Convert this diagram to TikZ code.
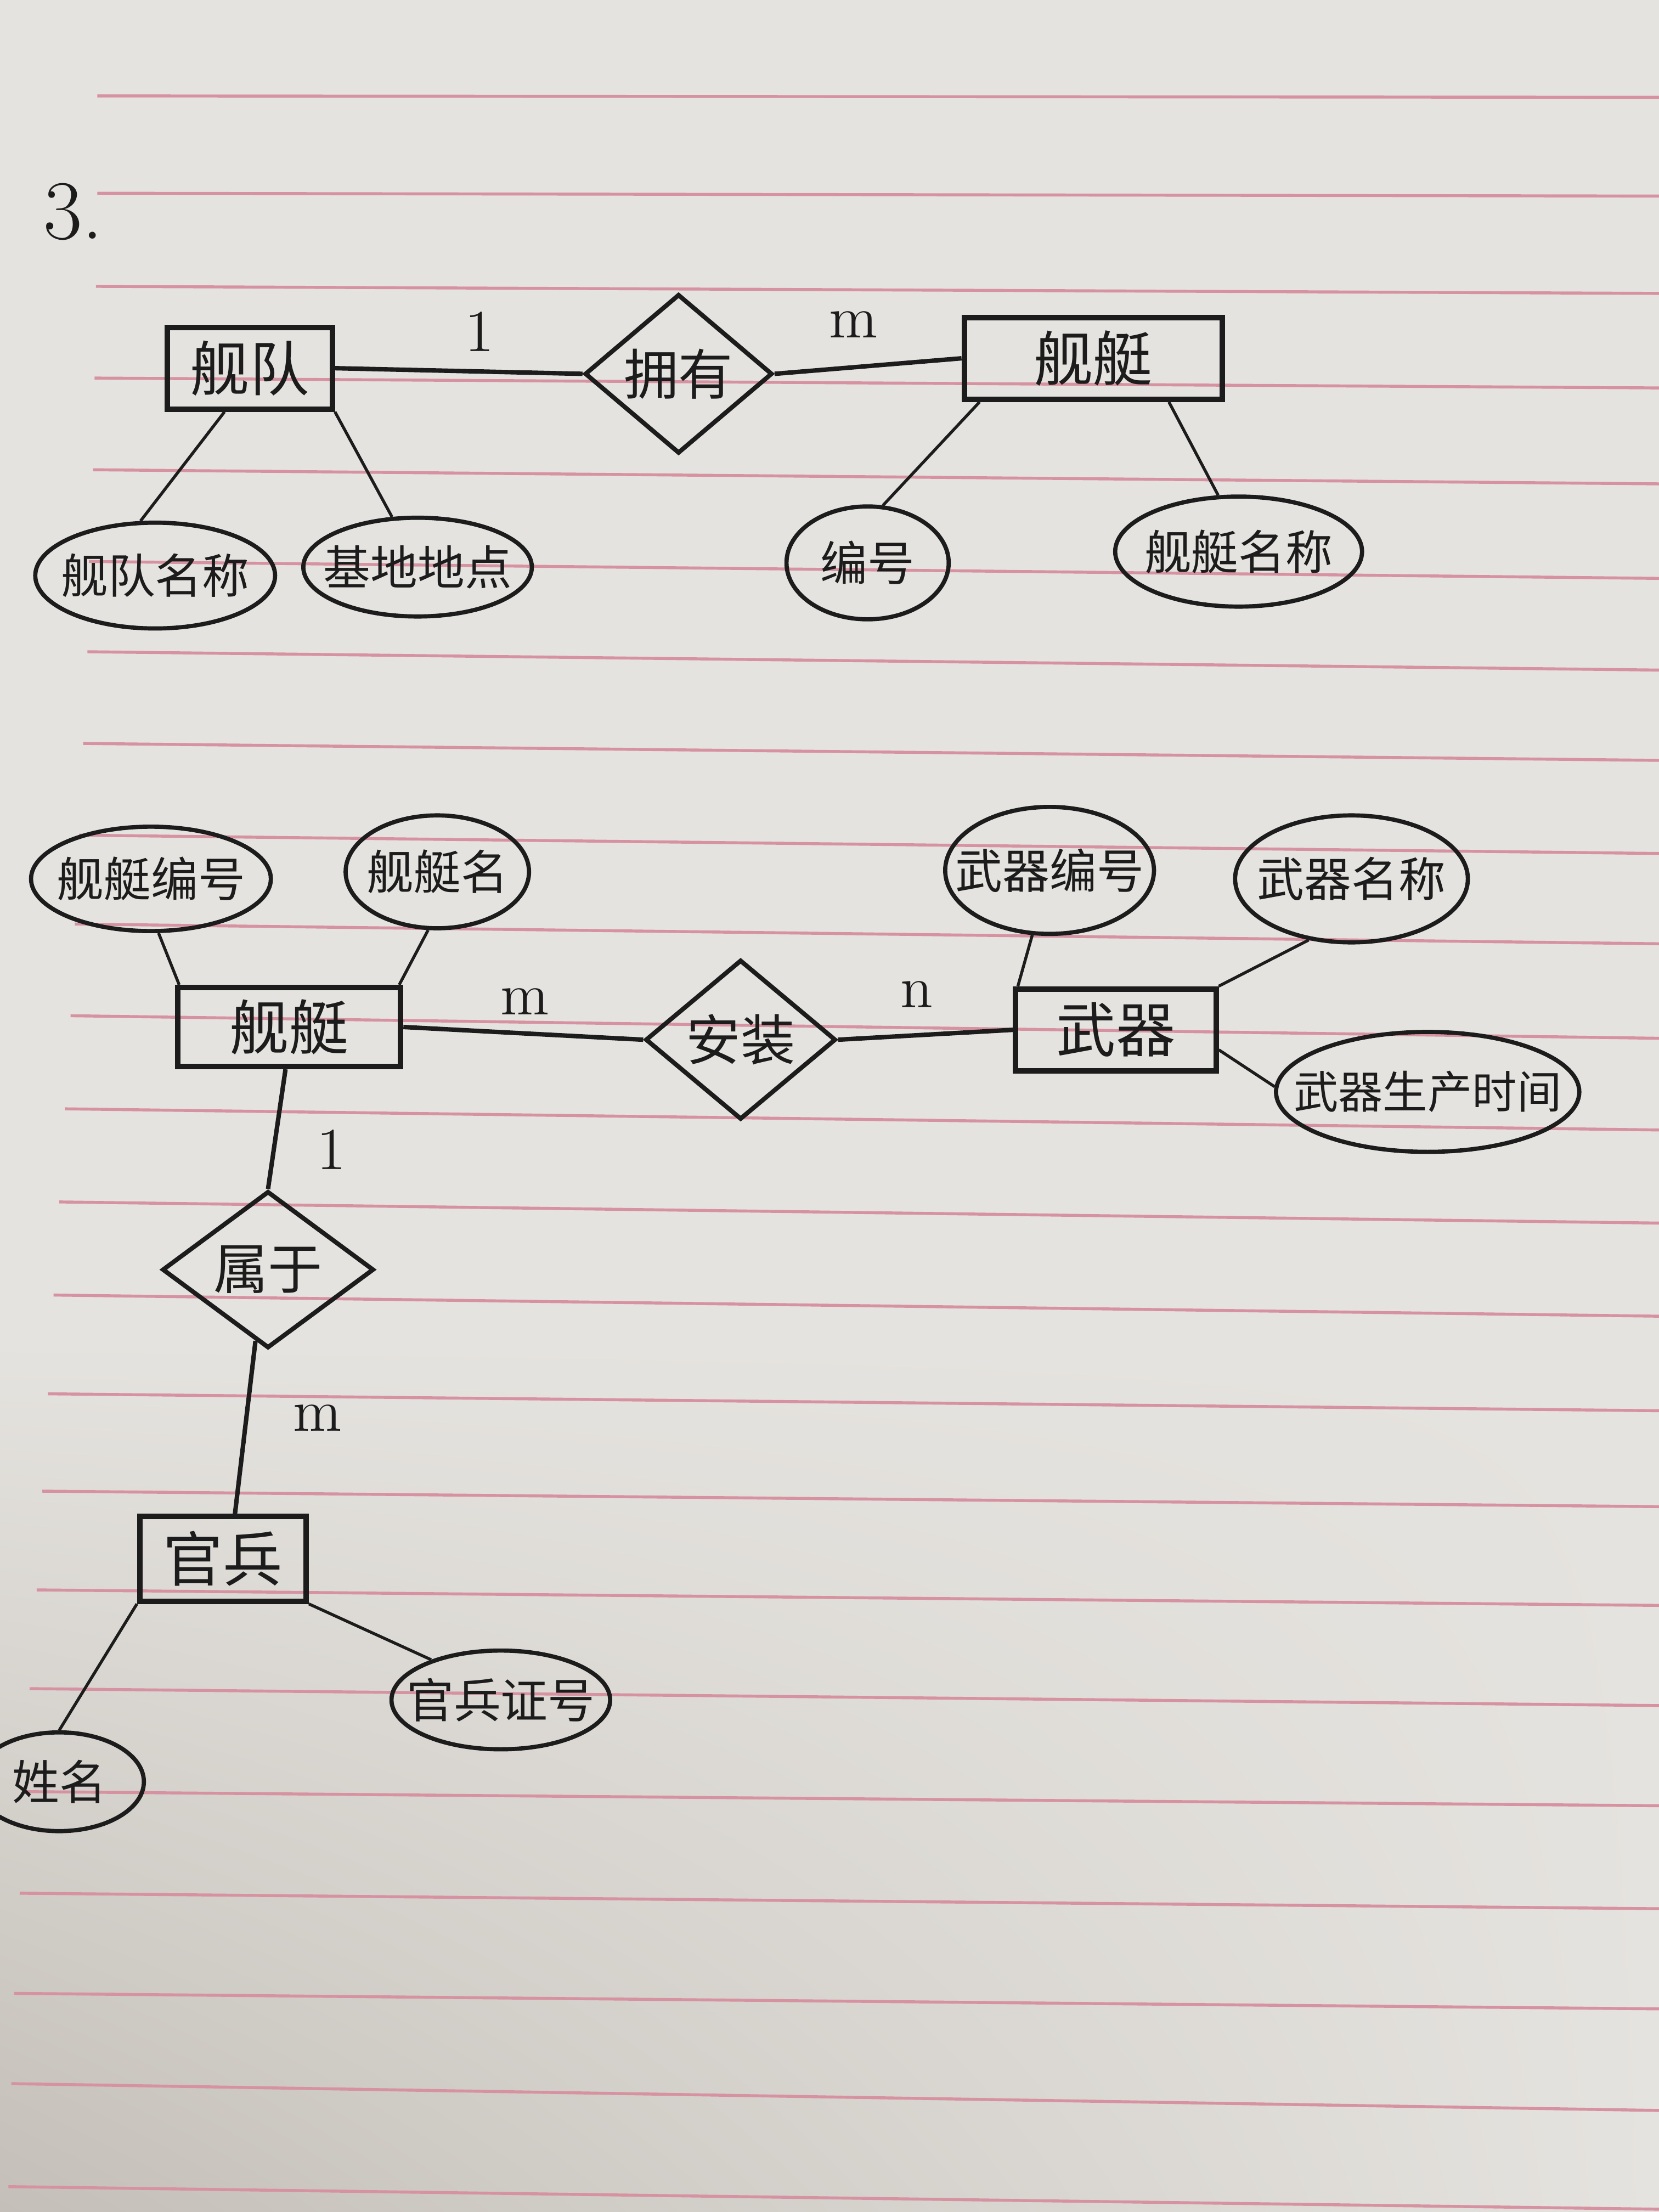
\documentclass[tikz,border=0pt]{standalone}
\usepackage{fontspec}
\newfontfamily\cjk{Noto Sans CJK SC}
\usetikzlibrary{shapes.geometric,shadings}
\definecolor{paper}{RGB}{229,227,223}
\definecolor{shadow}{RGB}{196,191,184}
\definecolor{ruling}{RGB}{214,146,160}
\definecolor{ink}{RGB}{28,28,28}

\begin{document}
\begin{tikzpicture}[x=1cm,y=-1cm,
    entity/.style={ink,draw,line width=1.1pt,inner sep=0pt,font=\cjk\fontsize{12}{14}\selectfont},
    attrib/.style={ink,draw,ellipse,line width=0.85pt,inner xsep=-1cm,inner ysep=0pt,font=\cjk\fontsize{9.5}{11}\selectfont},
    relat/.style={ink,draw,diamond,line width=0.9pt,inner sep=0pt,font=\cjk\fontsize{11}{13}\selectfont},
    link/.style={ink,line width=0.6pt},
    tie/.style={ink,line width=0.9pt},
    card/.style={ink,font=\fontsize{12}{14}\selectfont}]
  % paper and ruling
  \fill[paper] (0,0) rectangle (11.76,15.68);
  \shade[upper left=paper,upper right=paper,lower right=paper,lower left=shadow] (0,9.5) rectangle (11.76,15.68);
  \useasboundingbox (0,0) rectangle (11.76,15.68);
  \foreach \s/\l/\r in {0.69/0.68/0.69, 0.69/1.37/1.39, 0.68/2.03/2.08, 0.67/2.68/2.75,
      0.66/3.33/3.43, 0.63/3.98/4.10, 0.62/4.62/4.75, 0.59/5.27/5.39, 0.56/5.92/6.05,
      0.53/6.55/6.69, 0.50/7.20/7.36, 0.46/7.86/8.01, 0.42/8.52/8.67, 0.38/9.18/9.33,
      0.34/9.88/10.00, 0.30/10.57/10.68, 0.26/11.27/11.38, 0.21/11.97/12.09,
      0.18/12.70/12.80, 0.14/13.42/13.53, 0.10/14.13/14.24, 0.08/14.77/14.96, 0.06/15.50/15.66}
    \draw[ruling,line width=0.6pt] (\s,\l) -- (11.76,\r);

  \node[ink,font=\fontsize{17}{20}\selectfont] (num3) at (0.52,1.50) {3.};

  % fleet -- ship
  \node[entity,minimum width=1.17cm,minimum height=0.58cm] (fleet) at (1.77,2.61) {舰队};
  \node[relat,minimum width=1.33cm,minimum height=1.00cm] (own) at (4.81,2.65) {拥有};
  \node[entity,minimum width=1.83cm,minimum height=0.58cm] (ship) at (7.75,2.54) {舰艇};
  \node[attrib,minimum width=1.70cm,minimum height=0.75cm] (fleetname) at (1.10,4.08) {舰队名称};
  \node[attrib,minimum width=1.62cm,minimum height=0.70cm] (baseloc) at (2.96,4.02) {基地地点};
  \node[attrib,minimum width=1.15cm,minimum height=0.80cm] (shipno) at (6.15,3.99) {编号};
  \node[attrib,minimum width=1.75cm,minimum height=0.78cm] (shipname) at (8.78,3.91) {舰艇名称};

  \draw[tie] (fleet.east) -- (own.west);
  \node[card] (c1) at (3.40,2.35) {1};
  \draw[tie] (own.east) -- (ship.west);
  \node[card] (c2) at (6.05,2.30) {m};
  \draw[link] (fleet.-120) -- (fleetname.105);
  \draw[link] (fleet.south east) -- (baseloc.117);
  \draw[link] (ship.-159) -- (shipno.75);
  \draw[link] (ship.-30) -- (shipname.110);

  % ship -- weapon
  \node[attrib,minimum width=1.70cm,minimum height=0.74cm] (shipid) at (1.07,6.23) {舰艇编号};
  \node[attrib,minimum width=1.30cm,minimum height=0.80cm] (shiptitle) at (3.10,6.18) {舰艇名};
  \node[entity,minimum width=1.58cm,minimum height=0.56cm] (vessel) at (2.05,7.28) {舰艇};
  \node[relat,minimum width=1.35cm,minimum height=1.05cm] (mount) at (5.25,7.37) {安装};
  \node[entity,minimum width=1.42cm,minimum height=0.58cm] (weapon) at (7.91,7.30) {武器};
  \node[attrib,minimum width=1.48cm,minimum height=0.90cm] (weaponid) at (7.44,6.17) {武器编号};
  \node[attrib,minimum width=1.65cm,minimum height=0.90cm] (weaponname) at (9.58,6.23) {武器名称};
  \node[attrib,minimum width=2.15cm,minimum height=0.85cm,font=\cjk\fontsize{9}{11}\selectfont] (weapondate) at (10.12,7.74) {武器生产时间};

  \draw[link] (shipid.-82) -- (vessel.159);
  \draw[link] (shiptitle.-99) -- (vessel.21);
  \draw[tie] (vessel.east) -- (mount.west);
  \node[card] (c3) at (3.72,7.10) {m};
  \draw[tie] (mount.east) -- (weapon.west);
  \node[card] (c4) at (6.50,7.05) {n};
  \draw[link] (weaponid.-105) -- (weapon.156);
  \draw[link] (weaponname.-125) -- (weapon.23);
  \draw[link] (weapon.-11) -- (weapondate.178);

  % ship -- crew
  \node[relat,minimum width=1.50cm,minimum height=1.00cm] (belong) at (1.90,9.00) {属于};
  \node[entity,minimum width=1.18cm,minimum height=0.60cm] (crew) at (1.58,11.05) {官兵};
  \node[attrib,minimum width=1.20cm,minimum height=0.70cm] (crewname) at (0.42,12.63) {姓名};
  \node[attrib,minimum width=1.55cm,minimum height=0.70cm] (crewid) at (3.55,12.05) {官兵证号};

  \draw[tie] (vessel.-95) -- (belong.north);
  \node[card] (c5) at (2.35,8.15) {1};
  \draw[tie] (belong.-100) -- (crew.75);
  \node[card] (c6) at (2.25,10.05) {m};
  \draw[link] (crew.south west) -- (crewname.north);
  \draw[link] (crew.south east) -- (crewid.150);
\end{tikzpicture}
\end{document}
